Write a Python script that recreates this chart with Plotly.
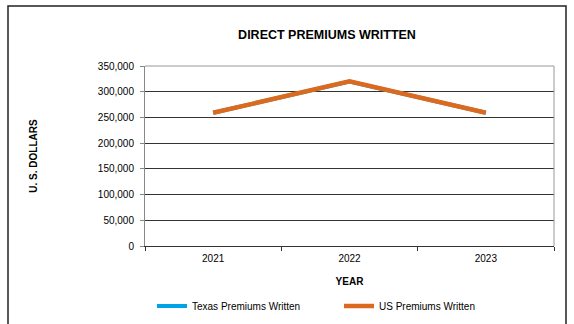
import plotly.graph_objects as go

years = ["2021", "2022", "2023"]
texas_premiums = [259000, 320000, 259000]
us_premiums = [259000, 320000, 259000]
y_ticks = [0, 50000, 100000, 150000, 200000, 250000, 300000, 350000]
y_tick_labels = ["0", "50,000", "100,000", "150,000", "200,000", "250,000", "300,000", "350,000"]

FONT = "Liberation Sans, Arial, sans-serif"

fig = go.Figure()
fig.add_trace(go.Scatter(x=years, y=texas_premiums, mode="lines", name="Texas Premiums Written",
                         line=dict(color="#00A2E8", width=4)))
fig.add_trace(go.Scatter(x=years, y=us_premiums, mode="lines", name="US Premiums Written",
                         line=dict(color="#DC6A1E", width=4.5)))

fig.update_layout(
    width=574, height=324,
    margin=dict(l=145, r=20, t=66, b=78, autoexpand=False),
    paper_bgcolor="white", plot_bgcolor="white",
    font=dict(family=FONT, size=10, color="#000"),
    title=dict(text="<b>DIRECT PREMIUMS WRITTEN</b>", x=(327) / 574, xanchor="center",
               y=1 - 35 / 324, yanchor="middle", font=dict(size=12.5, family=FONT, color="#000")),
    showlegend=True,
    legend=dict(orientation="h", x=(152 - 145) / 409, xanchor="left", y=(246 - 306) / 180, yanchor="middle",
                entrywidth=142, entrywidthmode="pixels", font=dict(size=10, family=FONT),
                bgcolor="rgba(0,0,0,0)"),
    xaxis=dict(type="category", range=[-0.5, 2.5], tickson="boundaries", ticks="outside", ticklen=4,
               tickcolor="#333", showline=True, linecolor="#333", linewidth=1, mirror=False,
               showgrid=False, tickfont=dict(size=10, family=FONT), automargin=False,
               ticklabelstandoff=3,
               title=dict(text="<b>YEAR</b>", font=dict(size=10, family=FONT), standoff=14)),
    yaxis=dict(range=[0, 350000], tickvals=y_ticks, ticktext=y_tick_labels, ticks="outside", ticklen=4,
               tickcolor="#888", showline=True, linecolor="#888", linewidth=1, showgrid=True,
               gridcolor="#333", gridwidth=1, zeroline=False, tickfont=dict(size=10, family=FONT),
               automargin=False, ticklabelstandoff=4,
               title=dict(text="<b>U. S. DOLLARS</b>", font=dict(size=10, family=FONT), standoff=58)),
)

# plot area frame (top and right in light gray)
fig.add_shape(type="line", xref="paper", yref="paper", x0=0, x1=1, y0=1, y1=1,
              line=dict(color="#999", width=1))
fig.add_shape(type="line", xref="paper", yref="paper", x0=1, x1=1, y0=0, y1=1,
              line=dict(color="#999", width=1))
# outer chart frame
fig.add_shape(type="rect", xref="paper", yref="paper",
              x0=(8 - 145) / 409, x1=(566 - 145) / 409, y0=(246 - 340) / 180, y1=(246 - 6) / 180,
              line=dict(color="#222", width=1.5), layer="below")

fig.write_html("out.html")
